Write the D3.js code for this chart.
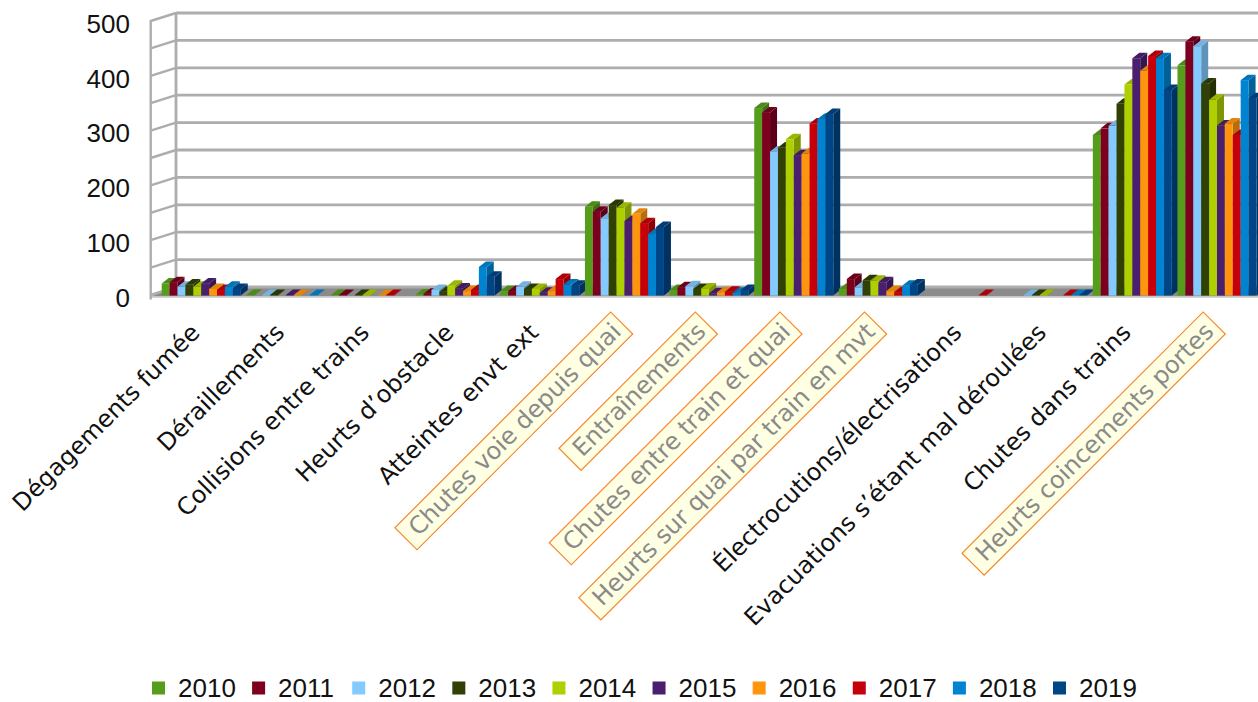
<!DOCTYPE html>
<html>
<head>
<meta charset="utf-8">
<script src="https://cdn.jsdelivr.net/npm/d3@7"></script>
<style>
  html, body { margin: 0; padding: 0; background: #fff; }
  svg { display: block; }
</style>
</head>
<body>
<svg id="chart" width="1258" height="702"></svg>
<script>
// categories on the x axis, one series per year
const categories = [
  'Dégagements fumée', 'Déraillements', 'Collisions entre trains', 'Heurts d’obstacle',
  'Atteintes envt ext', 'Chutes voie depuis quai', 'Entraînements', 'Chutes entre train et quai',
  'Heurts sur quai par train en mvt', 'Électrocutions/électrisations',
  'Evacuations s’étant mal déroulées', 'Chutes dans trains', 'Heurts coincements portes'
];
const highlighted = ['Chutes voie depuis quai', 'Entraînements', 'Chutes entre train et quai',
  'Heurts sur quai par train en mvt', 'Heurts coincements portes'];

const years = ['2010', '2011', '2012', '2013', '2014', '2015', '2016', '2017', '2018', '2019'];
const colors = ['#579d1c', '#7e0021', '#83caff', '#314004', '#aecf00',
  '#4b1f6f', '#ff950e', '#c5000b', '#0084d1', '#004586'];

const v2010 = [22, 1, 1, 2, 8, 162, 10, 342, 12, 0, 0, 293, 420];
const v2011 = [24, 0, 1, 3, 8, 153, 15, 334, 30, 0, 0, 305, 463];
const v2012 = [16, 1, 0, 10, 16, 141, 17, 263, 15, 0, 1, 310, 455];
const v2013 = [20, 1, 1, 7, 12, 165, 12, 270, 28, 0, 1, 350, 387];
const v2014 = [16, 0, 1, 18, 12, 160, 13, 285, 27, 0, 1, 385, 357];
const v2015 = [22, 1, 0, 13, 5, 136, 4, 256, 24, 0, 0, 433, 310];
const v2016 = [12, 1, 1, 8, 8, 149, 6, 259, 8, 0, 0, 410, 314];
const v2017 = [10, 0, 1, 10, 30, 132, 7, 314, 6, 1, 1, 437, 293];
const v2018 = [16, 1, 0, 52, 20, 112, 5, 322, 18, 0, 1, 433, 393];
const v2019 = [12, 0, 0, 34, 18, 125, 10, 331, 20, 0, 1, 375, 360];
const seriesValues = [v2010, v2011, v2012, v2013, v2014, v2015, v2016, v2017, v2018, v2019];

const yTicks = [0, 100, 200, 300, 400, 500];
const gridTicks = [0, 50, 100, 150, 200, 250, 300, 350, 400, 450, 500];

const svg = d3.select('#chart');

// wall geometry: back wall is shifted up/right from the front plane
const WALL_DX = 25.3, WALL_DY = -8;
const FRONT_X = 150.7;
const BAR_DX = 7, BAR_DY = -5.5;

const yFront = d3.scaleLinear().domain([0, 500]).range([295.5, 21.5]);
const yBack = d3.scaleLinear().domain([0, 500]).range([287, 13]);

const xCat = d3.scaleBand().domain(categories).range([158.9, 1259.3])
  .paddingInner(0.0667).paddingOuter(0.0333);
const xYear = d3.scaleBand().domain(years).range([0, xCat.bandwidth()]);

const gridColor = '#adadad';

// floor
const floorFront = 296.5, floorBack = 287;
svg.append('polygon')
  .attr('points', [[FRONT_X, floorFront], [FRONT_X + WALL_DX, floorBack], [1300, floorBack], [1300, floorFront]].join(' '))
  .attr('fill', '#8b8b8b');
svg.append('line')
  .attr('x1', FRONT_X).attr('x2', 1258).attr('y1', floorFront + 0.5).attr('y2', floorFront + 0.5)
  .attr('stroke', '#c4c4c4').attr('stroke-width', 1.5);

// back wall grid
const grid = svg.append('g');
grid.selectAll('line.h')
  .data(gridTicks)
  .join('line')
  .attr('class', 'h')
  .attr('x1', FRONT_X + WALL_DX).attr('x2', 1258)
  .attr('y1', d => yBack(d)).attr('y2', d => yBack(d))
  .attr('stroke', gridColor).attr('stroke-width', 2.8);
grid.selectAll('line.s')
  .data(gridTicks)
  .join('line')
  .attr('class', 's')
  .attr('x1', FRONT_X).attr('x2', FRONT_X + WALL_DX)
  .attr('y1', d => yBack(d) - WALL_DY).attr('y2', d => yBack(d))
  .attr('stroke', gridColor).attr('stroke-width', 2.4);
grid.append('line')
  .attr('x1', FRONT_X + WALL_DX).attr('x2', FRONT_X + WALL_DX)
  .attr('y1', yBack(500) - 1).attr('y2', yBack(0))
  .attr('stroke', gridColor).attr('stroke-width', 2.8);
grid.append('line')
  .attr('x1', FRONT_X).attr('x2', FRONT_X)
  .attr('y1', yBack(500) - WALL_DY - 1).attr('y2', floorFront + 3)
  .attr('stroke', gridColor).attr('stroke-width', 2.4);

// bars, drawn left to right so each bar hides its neighbour's side face
const bars = svg.append('g');
categories.forEach(function (cat, ci) {
  years.forEach(function (yr, yi) {
    const v = seriesValues[yi][ci];
    if (!v) return;
    const x = xCat(cat) + xYear(yr);
    const w = xYear.bandwidth();
    const y0 = yFront(0), y1 = yFront(v);
    const base = d3.color(colors[yi]);
    const g = bars.append('g');
    g.append('polygon')
      .attr('points', [[x + w, y1], [x + w + BAR_DX, y1 + BAR_DY], [x + w + BAR_DX, y0 + BAR_DY], [x + w, y0]].join(' '))
      .attr('fill', base.darker(0.9));
    g.append('polygon')
      .attr('points', [[x, y1], [x + BAR_DX, y1 + BAR_DY], [x + w + BAR_DX, y1 + BAR_DY], [x + w, y1]].join(' '))
      .attr('fill', base.darker(0.35));
    g.append('rect')
      .attr('x', x).attr('y', y1).attr('width', w).attr('height', y0 - y1)
      .attr('fill', base);
  });
});

// y axis labels
const yAxis = svg.append('g')
  .attr('transform', 'translate(130,2.5)')
  .call(d3.axisLeft(yFront).tickValues(yTicks).tickSize(0).tickPadding(0));
yAxis.select('.domain').remove();
yAxis.selectAll('text')
  .attr('font-family', '"Liberation Sans", Arial, sans-serif')
  .attr('font-size', 26)
  .attr('fill', '#111');

// category labels, rotated
const labels = svg.append('g');
categories.forEach(function (cat) {
  const cx = xCat(cat) + xCat.bandwidth() / 2;
  const isHi = highlighted.indexOf(cat) !== -1;
  const g = labels.append('g')
    .attr('transform', 'translate(' + (isHi ? cx - 2 : cx) + ',' + (isHi ? 333 : 334) + ') rotate(-45)');
  const t = g.append('text')
    .attr('text-anchor', 'end')
    .attr('font-family', '"DejaVu Sans", Verdana, sans-serif')
    .attr('font-size', 24)
    .attr('fill', isHi ? '#8a8a8a' : '#111')
    .text(cat);
  if (isHi) {
    const b = t.node().getBBox();
    g.insert('rect', 'text')
      .attr('x', b.x - 10).attr('y', -23.2)
      .attr('width', b.width + 16.5).attr('height', 31.2)
      .attr('fill', '#ffffe3')
      .attr('stroke', '#f7862a').attr('stroke-width', 1.2);
  }
});

// legend
const legend = svg.append('g');
const legendX = d3.scalePoint().domain(years).range([152, 1053]);
years.forEach(function (yr, i) {
  legend.append('rect')
    .attr('x', legendX(yr)).attr('y', 681.5).attr('width', 13).attr('height', 13)
    .attr('fill', colors[i]);
  legend.append('text')
    .attr('x', legendX(yr) + 26).attr('y', 688)
    .attr('dominant-baseline', 'central')
    .attr('font-family', '"Liberation Sans", Arial, sans-serif')
    .attr('font-size', 26)
    .attr('fill', '#111')
    .text(yr);
});
</script>
</body>
</html>
